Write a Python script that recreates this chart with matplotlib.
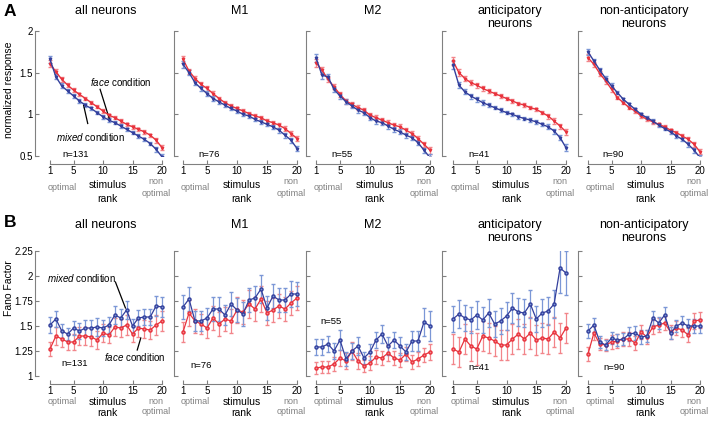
import matplotlib.pyplot as plt
from matplotlib.transforms import blended_transform_factory

plt.rcParams['font.family'] = ['Liberation Sans', 'DejaVu Sans']
plt.rcParams['mathtext.fontset'] = 'custom'
plt.rcParams['mathtext.it'] = 'Liberation Sans:italic'
plt.rcParams['mathtext.rm'] = 'Liberation Sans'

# stimulus rank
rank = list(range(1, 21))
titles = ['all neurons', 'M1', 'M2', 'anticipatory\nneurons', 'non-anticipatory\nneurons']
n_A = ['n=131', 'n=76', 'n=55', 'n=41', 'n=90']
n_B = ['n=131', 'n=76', 'n=55', 'n=41', 'n=90']
n_B_pos = [(5.1, 1.12), (4.0, 1.10), (3.5, 1.54), (5.4, 1.08), (5.4, 1.08)]

# A: normalized response (face = red, mixed = blue)
resp_face = [
    [1.61, 1.51, 1.42, 1.35, 1.29, 1.24, 1.19, 1.14, 1.09, 1.04, 0.99, 0.96, 0.92, 0.88, 0.85, 0.82, 0.79, 0.75, 0.69, 0.60],
    [1.66, 1.52, 1.43, 1.36, 1.31, 1.25, 1.19, 1.14, 1.10, 1.07, 1.04, 1.01, 0.98, 0.96, 0.92, 0.90, 0.87, 0.83, 0.77, 0.71],
    [1.62, 1.53, 1.42, 1.33, 1.24, 1.16, 1.12, 1.08, 1.05, 0.99, 0.96, 0.93, 0.90, 0.87, 0.85, 0.81, 0.77, 0.71, 0.64, 0.57],
    [1.64, 1.50, 1.43, 1.38, 1.35, 1.31, 1.28, 1.25, 1.22, 1.19, 1.16, 1.13, 1.11, 1.08, 1.06, 1.02, 0.98, 0.92, 0.86, 0.79],
    [1.68, 1.60, 1.49, 1.40, 1.30, 1.20, 1.14, 1.08, 1.04, 0.98, 0.94, 0.91, 0.88, 0.85, 0.81, 0.78, 0.74, 0.70, 0.64, 0.55],
]
resp_mixed = [
    [1.66, 1.45, 1.34, 1.28, 1.22, 1.16, 1.11, 1.07, 1.02, 0.97, 0.93, 0.90, 0.86, 0.82, 0.78, 0.74, 0.70, 0.65, 0.58, 0.49],
    [1.60, 1.50, 1.38, 1.31, 1.25, 1.19, 1.15, 1.11, 1.07, 1.04, 1.00, 0.98, 0.94, 0.91, 0.88, 0.85, 0.81, 0.75, 0.69, 0.59],
    [1.68, 1.47, 1.45, 1.30, 1.22, 1.15, 1.10, 1.05, 1.02, 0.96, 0.92, 0.90, 0.86, 0.82, 0.79, 0.75, 0.72, 0.66, 0.57, 0.48],
    [1.59, 1.35, 1.27, 1.22, 1.18, 1.14, 1.11, 1.08, 1.05, 1.02, 1.00, 0.97, 0.95, 0.93, 0.91, 0.88, 0.85, 0.80, 0.72, 0.60],
    [1.75, 1.64, 1.53, 1.43, 1.34, 1.26, 1.18, 1.12, 1.06, 1.00, 0.96, 0.92, 0.87, 0.83, 0.79, 0.74, 0.70, 0.64, 0.57, 0.48],
]
resp_err = [
    [0.04, 0.03, 0.03, 0.02, 0.02, 0.02, 0.02, 0.02, 0.02, 0.02, 0.02, 0.02, 0.02, 0.02, 0.02, 0.02, 0.02, 0.02, 0.03, 0.03],
    [0.04, 0.03, 0.03, 0.03, 0.03, 0.03, 0.02, 0.02, 0.02, 0.02, 0.02, 0.02, 0.02, 0.02, 0.02, 0.02, 0.03, 0.03, 0.03, 0.03],
    [0.05, 0.04, 0.03, 0.03, 0.03, 0.03, 0.03, 0.03, 0.03, 0.03, 0.03, 0.03, 0.03, 0.03, 0.03, 0.03, 0.03, 0.03, 0.03, 0.04],
    [0.05, 0.04, 0.03, 0.03, 0.03, 0.03, 0.02, 0.02, 0.02, 0.02, 0.02, 0.02, 0.02, 0.02, 0.02, 0.02, 0.03, 0.03, 0.03, 0.04],
    [0.04, 0.03, 0.03, 0.03, 0.03, 0.02, 0.02, 0.02, 0.02, 0.02, 0.02, 0.02, 0.02, 0.02, 0.02, 0.02, 0.02, 0.03, 0.03, 0.03],
]

# B: Fano factor
ff_face = [
    [1.27, 1.40, 1.37, 1.34, 1.34, 1.40, 1.40, 1.39, 1.36, 1.43, 1.41, 1.49, 1.48, 1.51, 1.42, 1.48, 1.47, 1.46, 1.51, 1.55],
    [1.44, 1.63, 1.55, 1.52, 1.48, 1.58, 1.52, 1.57, 1.55, 1.66, 1.64, 1.72, 1.67, 1.77, 1.63, 1.66, 1.70, 1.67, 1.73, 1.78],
    [1.08, 1.09, 1.09, 1.12, 1.18, 1.15, 1.25, 1.15, 1.10, 1.13, 1.19, 1.18, 1.23, 1.18, 1.16, 1.22, 1.14, 1.17, 1.21, 1.24],
    [1.27, 1.24, 1.37, 1.30, 1.27, 1.40, 1.38, 1.35, 1.31, 1.31, 1.37, 1.42, 1.37, 1.43, 1.36, 1.38, 1.37, 1.44, 1.38, 1.48],
    [1.22, 1.43, 1.32, 1.31, 1.34, 1.35, 1.37, 1.37, 1.33, 1.44, 1.39, 1.49, 1.51, 1.53, 1.44, 1.48, 1.46, 1.41, 1.55, 1.56],
]
ff_mixed = [
    [1.51, 1.57, 1.45, 1.42, 1.48, 1.45, 1.48, 1.48, 1.49, 1.48, 1.51, 1.61, 1.58, 1.66, 1.50, 1.58, 1.59, 1.59, 1.70, 1.69],
    [1.69, 1.77, 1.55, 1.55, 1.58, 1.67, 1.67, 1.61, 1.72, 1.66, 1.62, 1.76, 1.78, 1.87, 1.68, 1.80, 1.76, 1.76, 1.82, 1.82],
    [1.29, 1.29, 1.32, 1.25, 1.36, 1.17, 1.25, 1.30, 1.18, 1.24, 1.36, 1.42, 1.30, 1.36, 1.30, 1.24, 1.35, 1.35, 1.54, 1.50],
    [1.57, 1.62, 1.58, 1.56, 1.61, 1.56, 1.63, 1.52, 1.55, 1.60, 1.68, 1.64, 1.63, 1.72, 1.57, 1.63, 1.65, 1.72, 2.08, 2.03],
    [1.45, 1.51, 1.34, 1.31, 1.38, 1.36, 1.37, 1.42, 1.43, 1.39, 1.40, 1.58, 1.53, 1.61, 1.43, 1.50, 1.53, 1.50, 1.50, 1.50],
]
ff_face_err = [
    [0.07, 0.09, 0.08, 0.08, 0.08, 0.09, 0.09, 0.09, 0.09, 0.09, 0.08, 0.09, 0.09, 0.10, 0.08, 0.09, 0.09, 0.09, 0.10, 0.10],
    [0.10, 0.13, 0.12, 0.10, 0.10, 0.12, 0.12, 0.12, 0.12, 0.13, 0.12, 0.14, 0.12, 0.13, 0.12, 0.12, 0.12, 0.12, 0.12, 0.12],
    [0.06, 0.06, 0.06, 0.07, 0.08, 0.08, 0.09, 0.08, 0.06, 0.07, 0.07, 0.07, 0.08, 0.07, 0.07, 0.07, 0.07, 0.07, 0.07, 0.08],
    [0.15, 0.15, 0.15, 0.15, 0.16, 0.15, 0.15, 0.15, 0.15, 0.15, 0.15, 0.15, 0.15, 0.16, 0.15, 0.15, 0.15, 0.15, 0.15, 0.15],
    [0.07, 0.07, 0.06, 0.06, 0.07, 0.07, 0.07, 0.07, 0.07, 0.07, 0.07, 0.07, 0.07, 0.07, 0.07, 0.07, 0.07, 0.07, 0.08, 0.08],
]
ff_mixed_err = [
    [0.08, 0.08, 0.07, 0.06, 0.07, 0.08, 0.08, 0.08, 0.09, 0.08, 0.08, 0.09, 0.09, 0.09, 0.07, 0.08, 0.08, 0.08, 0.10, 0.10],
    [0.12, 0.12, 0.10, 0.10, 0.10, 0.12, 0.12, 0.10, 0.12, 0.12, 0.12, 0.12, 0.12, 0.14, 0.12, 0.12, 0.12, 0.12, 0.13, 0.12],
    [0.08, 0.08, 0.08, 0.08, 0.10, 0.07, 0.08, 0.09, 0.06, 0.08, 0.08, 0.09, 0.09, 0.08, 0.09, 0.08, 0.10, 0.10, 0.14, 0.15],
    [0.13, 0.14, 0.13, 0.13, 0.14, 0.13, 0.14, 0.13, 0.13, 0.14, 0.15, 0.14, 0.14, 0.14, 0.13, 0.14, 0.14, 0.14, 0.25, 0.22],
    [0.07, 0.07, 0.06, 0.05, 0.06, 0.06, 0.06, 0.07, 0.07, 0.07, 0.06, 0.07, 0.06, 0.08, 0.06, 0.06, 0.07, 0.07, 0.07, 0.07],
]

red, red_err = '#e8323c', '#f2858a'
blue, blue_err = '#333f9c', '#7b97d6'
grey = '#808080'

W, H = 714, 421
fig = plt.figure(figsize=(W / 100, H / 100), dpi=100)

spine_px = [35, 174, 306, 442, 578]
x1_px = [50, 183, 316, 453, 588]
x20_px = [162, 297, 430, 566, 700]


def make_ax(i, top, bottom, ylim, yticks, ylabels):
    u = (x20_px[i] - x1_px[i]) / 19
    left, right = spine_px[i], x20_px[i] + 4
    ax = fig.add_axes([left / W, 1 - bottom / H, (right - left) / W, (bottom - top) / H])
    ax.set_xlim(1 - (x1_px[i] - left) / u, 20 + 4 / u)
    ax.set_ylim(*ylim)
    ax.patch.set_visible(False)
    ax.spines['top'].set_visible(False)
    ax.spines['right'].set_visible(False)
    for s in ['left', 'bottom']:
        ax.spines[s].set_color(grey)
        ax.spines[s].set_linewidth(0.8)
    ax.spines['bottom'].set_position(('outward', 6))
    ax.spines['bottom'].set_bounds(1, 20)
    ax.set_xticks([1, 5, 10, 15, 20])
    ax.set_yticks(yticks)
    ax.set_yticklabels(ylabels if i == 0 else [])
    ax.tick_params(direction='in', length=3, width=0.8, color=grey, labelsize=7, pad=1.5)
    return ax


def under_text(ax, rows):
    tr = blended_transform_factory(ax.transData, fig.transFigure)
    ax.text(3, 1 - rows[0] / H, 'optimal', color=grey, fontsize=6.5, ha='center', va='center', transform=tr)
    ax.text(10.8, 1 - rows[1] / H, 'stimulus', fontsize=7.5, ha='center', va='center', transform=tr)
    ax.text(10.8, 1 - rows[2] / H, 'rank', fontsize=7.5, ha='center', va='center', transform=tr)
    ax.text(19, 1 - rows[3] / H, 'non', color=grey, fontsize=6.5, ha='center', va='center', transform=tr)
    ax.text(19, 1 - rows[4] / H, 'optimal', color=grey, fontsize=6.5, ha='center', va='center', transform=tr)


for i in range(5):
    cx = (x1_px[i] + x20_px[i]) / 2 / W
    # row A
    ax = make_ax(i, 31, 156, (0.5, 2), [0.5, 1, 1.5, 2], ['0.5', '1', '1.5', '2'])
    ax.errorbar(rank, resp_face[i], yerr=resp_err[i], color=red, ecolor=red_err, lw=1, elinewidth=0.9,
                capsize=1.5, marker='v', ms=1.8)
    ax.errorbar(rank, resp_mixed[i], yerr=resp_err[i], color=blue, ecolor=blue_err, lw=1, elinewidth=0.9,
                capsize=1.5, marker='v', ms=1.8)
    ax.text(5.3, 0.52, n_A[i], fontsize=6.8, ha='center', va='center')
    under_text(ax, [188, 185, 199, 182, 194])
    fig.text(cx, 1 - 5 / H, titles[i], fontsize=9, ha='center', va='top', linespacing=1.1)
    if i == 0:
        fig.text(9 / W, 1 - 90 / H, 'normalized response', fontsize=7.5, rotation=90, ha='center', va='center')
        ax.text(7.8, 1.39, r'$\mathit{face}$ condition', fontsize=7, ha='left', va='center')
        ax.plot([9.5, 11.05], [1.30, 0.95], color='black', lw=0.9)
        ax.text(2.0, 0.73, r'$\mathit{mixed}$ condition', fontsize=7, ha='left', va='center')
        ax.plot([6.7, 7.4], [1.11, 0.89], color='black', lw=0.9)

    # row B
    ax = make_ax(i, 251, 376, (1, 2.25), [1, 1.25, 1.5, 1.75, 2, 2.25],
                 ['1', '1.25', '1.5', '1.75', '2', '2.25'])
    ax.errorbar(rank, ff_face[i], yerr=ff_face_err[i], color=red, ecolor=red_err, lw=0.9, elinewidth=0.9,
                capsize=1.5, marker='o', ms=2.2, mfc=red_err)
    ax.errorbar(rank, ff_mixed[i], yerr=ff_mixed_err[i], color=blue, ecolor=blue_err, lw=0.9, elinewidth=0.9,
                capsize=1.5, marker='o', ms=2.2, mfc=blue_err)
    ax.text(n_B_pos[i][0], n_B_pos[i][1], n_B[i], fontsize=6.8, ha='center', va='center')
    under_text(ax, [401, 402, 413, 401, 412])
    fig.text(cx, 1 - 219 / H, titles[i], fontsize=9, ha='center', va='top', linespacing=1.1)
    if i == 0:
        fig.text(9 / W, 1 - 288 / H, 'Fano Factor', fontsize=7.5, rotation=90, ha='center', va='center')
        ax.text(0.5, 1.98, r'$\mathit{mixed}$ condition', fontsize=7, ha='left', va='center')
        ax.plot([12.1, 13.8], [1.94, 1.68], color='black', lw=0.9)
        ax.text(10.2, 1.19, r'$\mathit{face}$ condition', fontsize=7, ha='left', va='center')
        ax.plot([16.4, 15.8], [1.38, 1.26], color='black', lw=0.9)

fig.text(4 / W, 1 - 4 / H, 'A', fontsize=12.5, fontweight='bold', ha='left', va='top')
fig.text(4 / W, 1 - 215 / H, 'B', fontsize=12.5, fontweight='bold', ha='left', va='top')

fig.savefig('out.png', dpi=100)
